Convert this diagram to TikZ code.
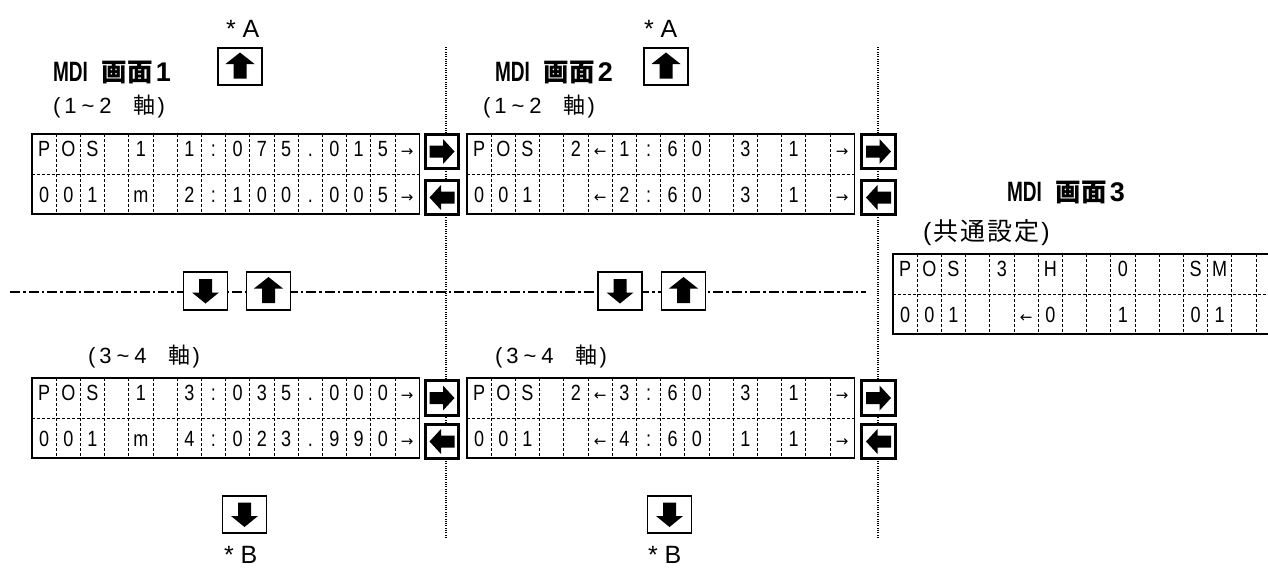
\documentclass[tikz,border=0pt]{standalone}
\usepackage{fontspec}
\setmainfont{Liberation Sans}
\newfontfamily\jp{Noto Sans CJK JP}
\newfontfamily\arrfont{DejaVu Sans}
\newfontfamily\cellfont[FakeStretch=0.82]{Liberation Sans}
\newfontfamily\ttlfont[FakeStretch=0.68]{Liberation Sans}
\newcommand\RA{{\arrfont\fontsize{15}{15}\selectfont →}}
\newcommand\LA{{\arrfont\fontsize{15}{15}\selectfont ←}}
\newcommand\mytitle[1]{{\ttlfont\bfseries\fontsize{28}{28}\selectfont MDI}\hspace{14pt}{\jp\bfseries\fontsize{25.5}{25.5}\selectfont 画面}\hspace{3pt}{\rmfamily\bfseries\fontsize{27}{27}\selectfont #1}}
\newcommand\mysub[2]{(\kern4pt#1\kern5pt\textasciitilde\kern5pt#2\hspace{22pt}{\jp\fontsize{22}{22}\selectfont 軸}\kern2pt)}
\newcommand\lcdpanel[5]{%
  \node[lcdframe] (#1) at (#2,#3) {};
  \draw[cellgrid] (#1.west) -- (#1.east);
  \foreach \k in {1,...,15}{\draw[cellgrid] ({#2+\k*24.2},#3) -- ({#2+\k*24.2},{#3+80});}
  \foreach \ch [count=\i] in {#4}{\node[celltxt] (#1-a\i) at ({#2+(\i-0.5)*24.2},{#3+22.5}) {\ch};}
  \foreach \ch [count=\i] in {#5}{\node[celltxt] (#1-b\i) at ({#2+(\i-0.5)*24.2},{#3+68.5}) {\ch};}
}
\tikzset{
  every node/.style={inner sep=0pt, outer sep=0pt},
  lcdframe/.style={draw, line width=1.1pt, minimum width=387.2pt, minimum height=80pt, anchor=north west},
  cellgrid/.style={line width=0.8pt, dash pattern=on 3pt off 2pt},
  celltxt/.style={anchor=base, font=\cellfont\fontsize{22}{22}\selectfont},
  sidebtn/.style={draw, fill=white, line width=2.6pt, minimum width=33.5pt, minimum height=34.5pt},
  keybtn/.style={draw, fill=white, line width=1.8pt, minimum width=44pt, minimum height=37.5pt},
  arrR/.style={path picture={\fill[black, shift={(path picture bounding box.center)}] (-12.5,-6)--(1,-6)--(1,-12.5)--(12.5,0)--(1,12.5)--(1,6)--(-12.5,6)--cycle;}},
  arrL/.style={path picture={\fill[black, shift={(path picture bounding box.center)}] (12.5,-6)--(-1,-6)--(-1,-12.5)--(-12.5,0)--(-1,12.5)--(-1,6)--(12.5,6)--cycle;}},
  arrU/.style={path picture={\fill[black, shift={(path picture bounding box.center)}] (-6.5,12)--(-6.5,-2.5)--(-14.5,-2.5)--(0,-14)--(14.5,-2.5)--(6.5,-2.5)--(6.5,12)--cycle;}},
  arrD/.style={path picture={\fill[black, shift={(path picture bounding box.center)}] (-6.5,-12)--(-6.5,1.5)--(-13.5,1.5)--(0,12.5)--(13.5,1.5)--(6.5,1.5)--(6.5,-12)--cycle;}},
  dotline/.style={line width=1.2pt, dash pattern=on 1pt off 1.3pt},
  chainline/.style={line width=1.4pt, dash pattern=on 10pt off 3pt on 2.5pt off 3pt},
  ttl/.style={anchor=west},
  subt/.style={anchor=west, font=\fontsize{22}{22}\selectfont},
  star/.style={anchor=base west, font=\fontsize{25}{25}\selectfont},
}
\begin{document}
\begin{tikzpicture}[x=1pt, y=-1pt]
\useasboundingbox (0,0) rectangle (1268,568);
\clip (0,0) rectangle (1268,568);
\fill[white] (0,0) rectangle (1268,568);
% guide lines
\coordinate (v1t) at (446,47); \coordinate (v1b) at (446,537);
\coordinate (v2t) at (878,47); \coordinate (v2b) at (878,537);
\coordinate (cl) at (10,292); \coordinate (cr) at (866,292);
\draw[dotline] (v1t) -- (v1b);
\draw[dotline] (v2t) -- (v2b);
\draw[chainline] (cl) -- (cr);
% panel 1
\node[star] (a1) at (226,37) {*\ A};
\node[keybtn, arrU] (u1) at (240,66.5) {};
\node[ttl] (t1) at (53,72) {\mytitle{1}};
\node[subt] (s1) at (53,107) {\mysub{1}{2}};
\lcdpanel{p1}{32}{134}{P,O,S,{},1,{},1,:,0,7,5,.,0,1,5,\RA}{0,0,1,{},m,{},2,:,1,0,0,.,0,0,5,\RA}
\node[sidebtn, arrR] (r1) at (442,151.5) {};
\node[sidebtn, arrL] (l1) at (442,197.5) {};
\node[keybtn, arrD] (md1) at (205.5,291) {};
\node[keybtn, arrU] (mu1) at (268.5,291) {};
\node[subt] (s3) at (88,357) {\mysub{3}{4}};
\lcdpanel{p3}{32}{378}{P,O,S,{},1,{},3,:,0,3,5,.,0,0,0,\RA}{0,0,1,{},m,{},4,:,0,2,3,.,9,9,0,\RA}
\node[sidebtn, arrR] (r3) at (442,398) {};
\node[sidebtn, arrL] (l3) at (442,441.5) {};
\node[keybtn, arrD] (d1) at (244.5,514.5) {};
\node[star] (b1) at (224,563) {*\ B};
% panel 2
\node[star] (a2) at (644,37) {*\ A};
\node[keybtn, arrU] (u2) at (666,66.5) {};
\node[ttl] (t2) at (495,72) {\mytitle{2}};
\node[subt] (s2) at (483,107) {\mysub{1}{2}};
\lcdpanel{p2}{467}{134}{P,O,S,{},2,\LA,1,:,6,0,{},3,{},1,{},\RA}{0,0,1,{},{},\LA,2,:,6,0,{},3,{},1,{},\RA}
\node[sidebtn, arrR] (r2) at (878.5,151.5) {};
\node[sidebtn, arrL] (l2) at (878.5,197.5) {};
\node[keybtn, arrD] (md2) at (620,291) {};
\node[keybtn, arrU] (mu2) at (683.5,291) {};
\node[subt] (s4) at (495,357) {\mysub{3}{4}};
\lcdpanel{p4}{467}{378}{P,O,S,{},2,\LA,3,:,6,0,{},3,{},1,{},\RA}{0,0,1,{},{},\LA,4,:,6,0,{},1,{},1,{},\RA}
\node[sidebtn, arrR] (r4) at (878.5,398) {};
\node[sidebtn, arrL] (l4) at (878.5,441.5) {};
\node[keybtn, arrD] (d2) at (669.5,514.5) {};
\node[star] (b2) at (648,563) {*\ B};
% panel 3
\node[ttl] (t3) at (1007,192) {\mytitle{3}};
\node[anchor=west] (s5) at (923,233) {{\fontsize{25}{25}\selectfont(}\kern2pt{\jp\fontsize{25}{25}\selectfont 共\kern2pt 通\kern2pt 設\kern2pt 定}\kern2pt{\fontsize{25}{25}\selectfont)}};
\lcdpanel{p5}{893}{254}{P,O,S,{},3,{},H,{},{},0,{},{},S,M,{},{}}{0,0,1,{},{},\LA,0,{},{},1,{},{},0,1,{},{}}
\end{tikzpicture}
\end{document}
